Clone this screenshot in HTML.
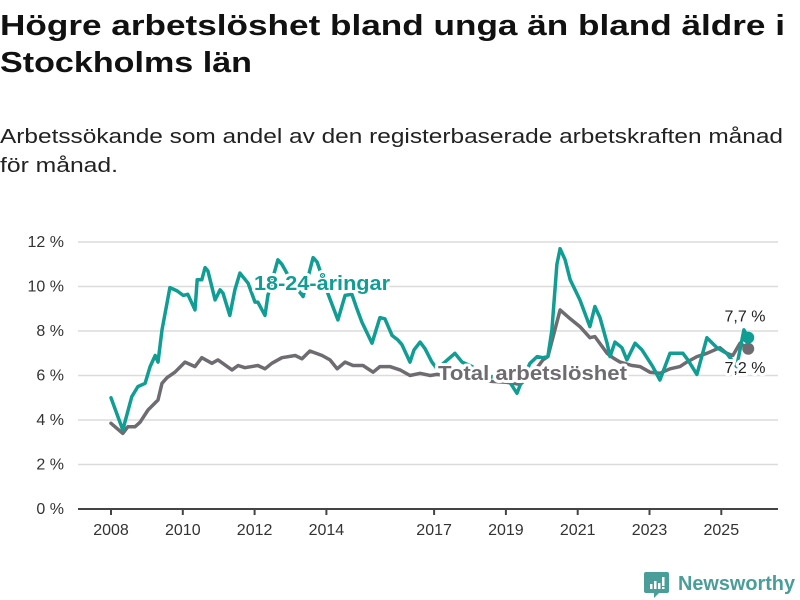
<!DOCTYPE html>
<html><head><meta charset="utf-8"><style>
html,body{margin:0;padding:0;background:#fff;}
svg{display:block;font-family:"Liberation Sans","DejaVu Sans",sans-serif;}
</style></head><body>
<svg id="chart" width="800" height="600" viewBox="0 0 800 600" xmlns="http://www.w3.org/2000/svg">
<text x="0" y="35" font-size="29" font-weight="bold" fill="#111" textLength="785" lengthAdjust="spacingAndGlyphs">Högre arbetslöshet bland unga än bland äldre i</text>
<text x="0" y="72" font-size="29" font-weight="bold" fill="#111" textLength="252" lengthAdjust="spacingAndGlyphs">Stockholms län</text>
<text x="0" y="143" font-size="20" fill="#222" textLength="783" lengthAdjust="spacingAndGlyphs">Arbetssökande som andel av den registerbaserade arbetskraften månad</text>
<text x="0" y="172" font-size="20" fill="#222" textLength="118" lengthAdjust="spacingAndGlyphs">för månad.</text>
<g id="grid"></g>
<g id="yaxis"></g>
<g id="xaxis"></g>
<g id="series"></g>
<g id="labels"></g>
<g>
<path d="M646 572 h21 a2 2 0 0 1 2 2 v17 a2 2 0 0 1 -2 2 h-8 l-5 5 v-5 h-8 a2 2 0 0 1 -2 -2 v-17 a2 2 0 0 1 2 -2z" fill="#4a9e9a"/>
<rect x="650" y="584" width="2.5" height="5" fill="#fff"/><rect x="654" y="581" width="2.5" height="8" fill="#fff"/><rect x="658" y="583" width="2.5" height="6" fill="#fff"/><rect x="662" y="577" width="2.5" height="9" fill="#fff"/><rect x="662" y="587" width="2.5" height="2" fill="#fff"/>
<text x="678" y="590" font-size="20" font-weight="bold" fill="#4a9e9a" textLength="117" lengthAdjust="spacingAndGlyphs">Newsworthy</text>
</g>
</svg>
<script>
const youthDates=[2008.0,2008.33,2008.58,2008.75,2008.95,2009.09,2009.23,2009.31,2009.42,2009.64,2009.84,2010.01,2010.14,2010.34,2010.4,2010.53,2010.62,2010.7,2010.9,2011.04,2011.12,2011.31,2011.45,2011.59,2011.82,2012.01,2012.09,2012.29,2012.37,2012.65,2012.76,2013.04,2013.35,2013.63,2013.74,2014.04,2014.32,2014.52,2014.71,2014.85,2014.99,2015.27,2015.49,2015.63,2015.83,2015.99,2016.1,2016.33,2016.44,2016.61,2016.75,2016.94,2017.08,2017.3,2017.58,2017.78,2018.06,2018.28,2018.64,2018.97,2019.11,2019.31,2019.45,2019.67,2019.87,2020.03,2020.17,2020.28,2020.42,2020.51,2020.65,2020.79,2021.06,2021.34,2021.48,2021.62,2021.82,2021.9,2022.04,2022.23,2022.37,2022.6,2022.79,2022.93,2023.09,2023.29,2023.57,2023.93,2024.07,2024.32,2024.6,2024.88,2025.15,2025.43,2025.63,2025.75];
const youthValues=[5.0,3.55,5.05,5.5,5.65,6.4,6.9,6.6,8.05,9.95,9.8,9.6,9.65,8.95,10.3,10.3,10.85,10.7,9.4,9.85,9.7,8.7,9.85,10.6,10.15,9.3,9.3,8.7,9.6,11.2,11.0,10.2,9.55,11.3,11.1,9.7,8.5,9.6,9.65,9.0,8.4,7.45,8.6,8.55,7.8,7.6,7.4,6.6,7.15,7.5,7.2,6.6,6.3,6.6,7.0,6.6,6.4,5.8,5.95,5.9,5.7,5.2,5.8,6.55,6.85,6.8,6.85,8.05,11.0,11.7,11.2,10.3,9.4,8.2,9.1,8.6,7.45,6.85,7.5,7.25,6.7,7.45,7.15,6.8,6.4,5.8,7.0,7.0,6.7,6.05,7.7,7.25,7.0,6.4,8.05,7.7];
const totalDates=[2008.0,2008.33,2008.47,2008.67,2008.81,2009.03,2009.31,2009.42,2009.56,2009.78,2010.06,2010.34,2010.53,2010.81,2010.98,2011.37,2011.54,2011.73,2012.09,2012.29,2012.48,2012.76,2013.13,2013.32,2013.54,2013.88,2014.1,2014.3,2014.52,2014.74,2015.02,2015.3,2015.49,2015.77,2016.05,2016.33,2016.61,2016.89,2017.08,2017.5,2018.0,2018.5,2019.0,2019.4,2019.8,2020.03,2020.17,2020.51,2020.79,2021.06,2021.34,2021.48,2021.82,2021.98,2022.18,2022.51,2022.74,2023.01,2023.29,2023.57,2023.85,2024.04,2024.32,2024.6,2024.96,2025.15,2025.32,2025.52,2025.75];
const totalValues=[3.85,3.4,3.7,3.7,3.9,4.45,4.9,5.65,5.9,6.15,6.6,6.4,6.8,6.55,6.7,6.25,6.45,6.35,6.45,6.3,6.55,6.8,6.9,6.75,7.1,6.9,6.7,6.3,6.6,6.45,6.45,6.15,6.4,6.4,6.25,6.0,6.1,6.0,6.05,5.95,5.9,5.75,5.7,5.6,6.2,6.7,6.85,8.95,8.55,8.2,7.7,7.75,7.0,6.8,6.6,6.45,6.4,6.15,6.1,6.3,6.4,6.6,6.85,7.0,7.25,7.0,6.9,7.45,7.2];
const yTicks=[0,2,4,6,8,10,12];
const xTicks=[2008,2010,2012,2014,2017,2019,2021,2023,2025];
const NS="http://www.w3.org/2000/svg";
const xs=d=>111+(d-2008)*35.9;
const ys=v=>509-v*22.25;
function mk(tag,parent,attrs){const e=document.createElementNS(NS,tag);for(const k in attrs)e.setAttribute(k,attrs[k]);document.getElementById(parent).appendChild(e);return e;}
yTicks.forEach(t=>{
  if(t>0){const g=mk('line','grid',{x1:78,x2:778,y1:ys(t),y2:ys(t),stroke:'#dcdcdc','stroke-width':1.5});
  
  }
  const l=mk('text','yaxis',{x:64,y:ys(t)+5,'font-size':16,fill:'#333','text-anchor':'end'});
  l.textContent=t+' %';
  
  
});
const ax=mk('line','xaxis',{x1:78,x2:778,y1:509,y2:509,stroke:'#444','stroke-width':2});


xTicks.forEach(t=>{
  const k=mk('line','xaxis',{x1:xs(t),x2:xs(t),y1:509,y2:515,stroke:'#444','stroke-width':2});
  
  
  const l=mk('text','xaxis',{x:xs(t),y:535,'font-size':16,fill:'#333','text-anchor':'middle'});
  l.textContent=t;
  
  
});
function line(dates,vals,color,name){
  const d=dates.map((t,i)=>(i?'L':'M')+xs(t).toFixed(1)+' '+ys(vals[i]).toFixed(1)).join(' ');
  const p=mk('path','series',{d:d,fill:'none',stroke:color,'stroke-width':3.5,'stroke-linejoin':'round','stroke-linecap':'round'});
  
  
  const n=dates.length-1;
  const c=mk('circle','series',{cx:xs(dates[n]),cy:ys(vals[n]),r:6,fill:color});
  
  
}
line(totalDates,totalValues,'#6e6c70','total-line');
line(youthDates,youthValues,'#109e94','youth-line');
function label(txt,x,y,size,color,weight,name,anchor,len){
  const a={x:x,y:y,'font-size':size,fill:color,'font-weight':weight,stroke:'#fff','stroke-width':6,'paint-order':'stroke','stroke-linejoin':'round','text-anchor':anchor||'start'};
  if(len){a.textLength=len;a.lengthAdjust='spacingAndGlyphs';}
  const t=mk('text','labels',a);
  t.textContent=txt;
  
  
}
label('18-24-åringar',254,290,20,'#109e94','bold','youth-series-label','start',136);
label('Total arbetslöshet',438,380,20,'#6e6c70','bold','total-series-label','start',189);
const ny=youthValues[youthValues.length-1], nt=totalValues[totalValues.length-1];
label(ny.toFixed(1).replace('.',',')+' %',745,ys(ny)-16,16,'#222','normal','youth-end-value','middle');
label(nt.toFixed(1).replace('.',',')+' %',745,ys(nt)+24,16,'#222','normal','total-end-value','middle');
</script>
</body></html>
